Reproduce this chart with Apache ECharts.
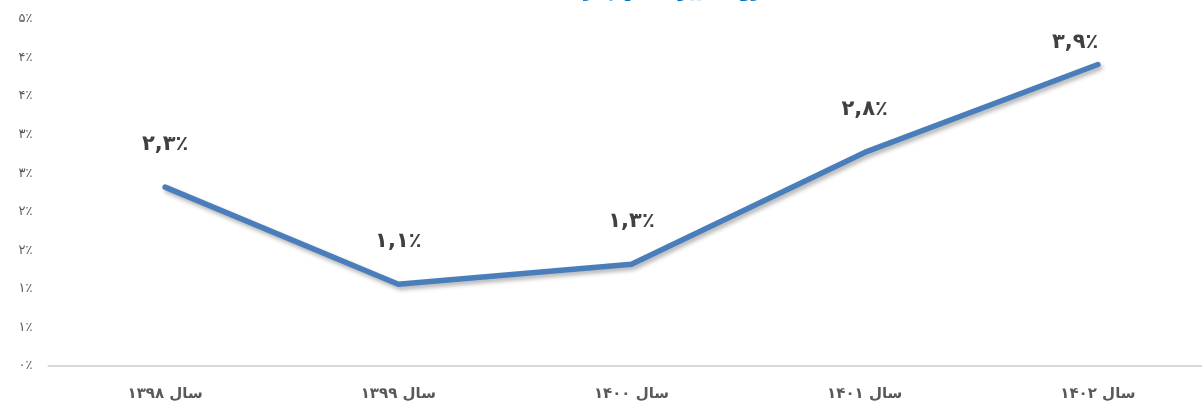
<!DOCTYPE html>
<html><head><meta charset="utf-8">
<script src="https://cdn.jsdelivr.net/npm/echarts@6/dist/echarts.min.js"></script>
<style>html,body{margin:0;padding:0;background:#fff}#c{width:1202px;height:405px}</style>
</head><body><div id="c"></div>
<script>
const titleText = 'روند تغییرات سهم در سال‌های ۱۳۹۸ تا ۱۴۰۲';
const categories = ['سال ۱۳۹۸', 'سال ۱۳۹۹', 'سال ۱۴۰۰', 'سال ۱۴۰۱', 'سال ۱۴۰۲'];
const values = [2.32, 1.06, 1.32, 2.77, 3.91];
const yMin = 0, yMax = 4.5, yStep = 0.5;

const fa = s => String(s).replace(/[0-9]/g, d => '۰۱۲۳۴۵۶۷۸۹'[d]);
const FONT = '"DejaVu Sans", sans-serif';

const chart = echarts.init(document.getElementById('c'), null, {renderer: 'canvas'});
const data = values.map((v, i) => {
  const o = {value: v};
  if (i === values.length - 1) o.label = {position: [-45, -31], align: 'left', verticalAlign: 'top'};
  return o;
});
chart.setOption({
  animation: false,
  title: {
    text: titleText, left: 572, textAlign: 'center', top: -21,
    textStyle: {color: '#0070c0', fontSize: 17, fontWeight: 'bold', fontFamily: FONT}
  },
  grid: {left: 48.5, width: 1166, top: 19, bottom: 39, containLabel: false, outerBoundsMode: 'none'},
  xAxis: {
    type: 'category', data: categories, boundaryGap: true,
    axisLine: {lineStyle: {color: '#d9d9d9', width: 2}},
    axisTick: {show: false},
    axisLabel: {color: '#595959', fontSize: 15, fontWeight: 'bold', fontFamily: FONT, margin: 21}
  },
  yAxis: {
    type: 'value', min: yMin, max: yMax, interval: yStep,
    splitLine: {show: false},
    axisLine: {show: false}, axisTick: {show: false},
    axisLabel: {
      color: '#595959', fontSize: 13, fontFamily: FONT, margin: 16,
      formatter: v => fa(Math.round(v)) + '٪'
    }
  },
  series: [{
    type: 'line', data: data, symbol: 'circle', symbolSize: 2, showSymbol: true,
    itemStyle: {color: '#4a7ebb'},
    lineStyle: {color: '#4a7ebb', width: 5.5, cap: 'round', join: 'round',
      shadowColor: 'rgba(0,0,0,0.3)', shadowBlur: 4, shadowOffsetX: 2, shadowOffsetY: 3},
    label: {
      show: true, position: 'top', distance: 31,
      color: '#404040', fontSize: 21, fontWeight: 'bold', fontFamily: FONT,
      formatter: p => fa(p.value.toFixed(1).replace('.', ',')) + '٪'
    },
    labelLayout: {hideOverlap: false}
  }]
});
</script></body></html>
